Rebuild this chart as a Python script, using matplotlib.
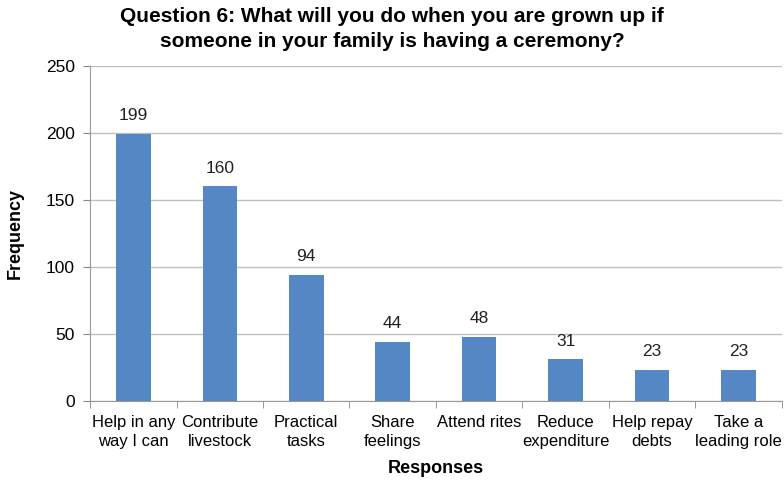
import numpy as np
import matplotlib.pyplot as plt

plt.rcParams['font.family'] = ['Liberation Sans', 'DejaVu Sans']

categories = ["Help in any\nway I can", "Contribute\nlivestock", "Practical\ntasks",
              "Share\nfeelings", "Attend rites", "Reduce\nexpenditure",
              "Help repay\ndebts", "Take a\nleading role"]
counts = [199, 160, 94, 44, 48, 31, 23, 23]

fig = plt.figure(figsize=(7.84, 4.84), dpi=100)
ax = fig.add_axes([0.115, 0.1715, 0.882, 0.6925])

x = np.arange(len(categories))
bars = ax.bar(x, counts, width=0.4, color='#5587C4', zorder=3)
for xi, v in zip(x, counts):
    ax.text(xi, v + 8, str(v), ha='center', va='bottom', fontsize=12.5, color='#222222')

ax.set_xlim(-0.5, len(categories) - 0.5)
ax.set_ylim(0, 250)
ax.set_yticks(range(0, 251, 50))
ax.yaxis.grid(True, color='#C0C0C0', linewidth=1, zorder=0)
ax.tick_params(axis='y', labelsize=12.5, length=5, color='#888888', pad=6)

ax.set_xticks(x)
ax.set_xticklabels(categories, fontsize=12, linespacing=1.35)
ax.tick_params(axis='x', length=0, pad=10)
ax.set_xticks(np.arange(-0.5, len(categories)), minor=True)
ax.tick_params(axis='x', which='minor', length=5, color='#888888')

for s in ['top', 'right']:
    ax.spines[s].set_visible(False)
for s in ['left', 'bottom']:
    ax.spines[s].set_color('#999999')

ax.set_ylabel("Frequency", fontsize=13, fontweight='bold', labelpad=16)
ax.set_xlabel("Responses", fontsize=13, fontweight='bold', labelpad=8)
fig.suptitle("Question 6: What will you do when you are grown up if\nsomeone in your family is having a ceremony?",
             x=0.5, y=0.985, fontsize=15, fontweight='bold', linespacing=1.4)

fig.savefig("out.png", dpi=100)
